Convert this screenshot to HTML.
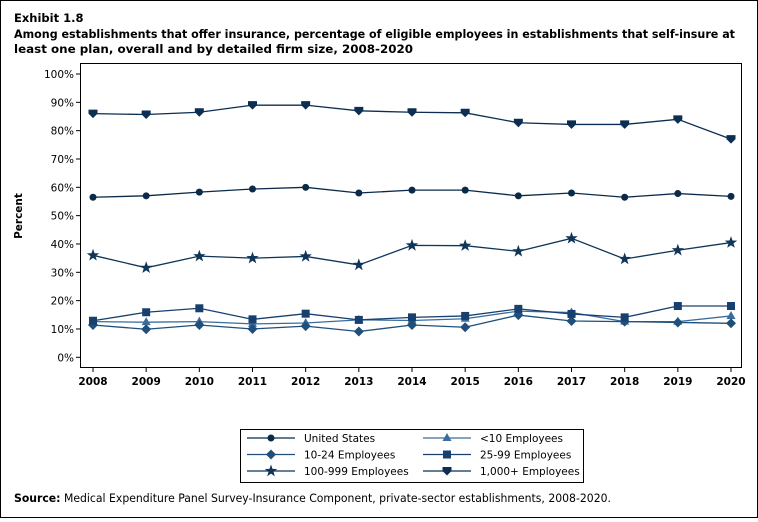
<!DOCTYPE html>
<html><head><meta charset="utf-8"><style>
body{margin:0;background:#fff;font-family:"DejaVu Sans",sans-serif}
</style></head><body>
<svg width="758" height="518" xmlns="http://www.w3.org/2000/svg" font-family="DejaVu Sans, Liberation Sans, sans-serif">
<rect x="0.5" y="0.5" width="757" height="517" fill="#fff" stroke="#000"/>
<text x="14" y="22" font-size="11.5" font-weight="bold">Exhibit 1.8</text>
<text x="14" y="38" font-size="11.5" font-weight="bold" textLength="721" lengthAdjust="spacingAndGlyphs">Among establishments that offer insurance, percentage of eligible employees in establishments that self-insure at</text>
<text x="14" y="53" font-size="11.5" font-weight="bold" textLength="399" lengthAdjust="spacingAndGlyphs">least one plan, overall and by detailed firm size, 2008-2020</text>
<rect x="80.5" y="63.5" width="661" height="304" fill="none" stroke="#000"/>
<text transform="translate(22,216) rotate(-90)" text-anchor="middle" font-size="10.5" font-weight="bold">Percent</text>
<g id="axes"></g>
<g id="series"></g>
<rect x="240.5" y="429.5" width="343" height="53" fill="#fff" stroke="#000"/>
<g id="legend"></g>
<text x="14" y="502" font-size="11.5" textLength="597" lengthAdjust="spacingAndGlyphs"><tspan font-weight="bold">Source:</tspan> Medical Expenditure Panel Survey-Insurance Component, private-sector establishments, 2008-2020.</text>
</svg>
<script>
const years=[2008,2009,2010,2011,2012,2013,2014,2015,2016,2017,2018,2019,2020];
const yTicks=[0,10,20,30,40,50,60,70,80,90,100];
const seriesNames=["United States","<10 Employees","10-24 Employees","25-99 Employees","100-999 Employees","1,000+ Employees"];
const usVals=[56.5,57,58.3,59.4,60,58,59,59,57,58,56.5,57.8,56.8];
const lt10Vals=[12.6,12.4,12.6,11.8,12.1,13.2,13,13.6,16.3,15.8,12.6,12.6,14.6];
const e10to24Vals=[11.4,9.9,11.4,10,11,9.1,11.4,10.6,14.9,12.8,12.6,12.3,12];
const e25to99Vals=[12.9,15.9,17.3,13.4,15.4,13.2,14.1,14.6,17.1,15.3,14.1,18.1,18.1];
const e100to999Vals=[36,31.6,35.7,35,35.6,32.6,39.5,39.4,37.4,42,34.7,37.8,40.5];
const e1000Vals=[86,85.7,86.5,89,89,87,86.5,86.3,82.8,82.2,82.2,84,77];

const NS="http://www.w3.org/2000/svg";
const xs=i=>93+i*(731-93)/(years.length-1);
const ys=v=>357.3-v*2.833;
function mk(tag,attrs,parent){const e=document.createElementNS(NS,tag);for(const k in attrs)e.setAttribute(k,attrs[k]);parent.appendChild(e);return e;}
const ax=document.getElementById('axes');
yTicks.forEach(t=>{
  const l=mk('line',{x1:76,x2:80,y1:ys(t),y2:ys(t),stroke:'#000'},ax);
  
  
  const tx=mk('text',{x:74,y:ys(t)+4,'text-anchor':'end','font-size':10.5},ax);
  tx.textContent=t+'%';
  
  
});
years.forEach((y,i)=>{
  const l=mk('line',{x1:xs(i),x2:xs(i),y1:368,y2:372,stroke:'#000'},ax);
  
  
  const tx=mk('text',{x:xs(i),y:385,'text-anchor':'middle','font-size':10.5,'font-weight':'bold'},ax);
  tx.textContent=y;
  
  
});
function marker(type,x,y,color,parent){
  let e;
  if(type==='circle')e=mk('circle',{cx:x,cy:y,r:3.5,fill:color},parent);
  else if(type==='tri')e=mk('polygon',{points:`${x},${y-5} ${x+4.5},${y+3} ${x-4.5},${y+3}`,fill:color},parent);
  else if(type==='diamond')e=mk('polygon',{points:`${x},${y-5} ${x+5},${y} ${x},${y+5} ${x-5},${y}`,fill:color},parent);
  else if(type==='square')e=mk('rect',{x:x-4,y:y-4,width:8,height:8,fill:color},parent);
  else if(type==='star'){let p=[];for(let k=0;k<10;k++){const r=k%2?2.6:6.5,a=-Math.PI/2+k*Math.PI/5;p.push((x+r*Math.cos(a)).toFixed(1)+','+(y+r*Math.sin(a)).toFixed(1));}e=mk('polygon',{points:p.join(' '),fill:color},parent);}
  else e=mk('polygon',{points:`${x-4.5},${y-4} ${x+4.5},${y-4} ${x+4.5},${y} ${x},${y+4.5} ${x-4.5},${y}`,fill:color},parent);
  return e;
}
const allVals=[usVals,lt10Vals,e10to24Vals,e25to99Vals,e100to999Vals,e1000Vals];
const types=['circle','tri','diamond','square','star','shield'];
const colors=['#0b2a48','#3a6d9e','#1f4f7a','#17406f','#0f3559','#0c2e52'];
const slugs=['us','lt10','10-24','25-99','100-999','1000plus'];
const sg=document.getElementById('series');
allVals.forEach((vals,s)=>{
  const g=mk('g',{},sg);
  
  
  const ln=mk('polyline',{points:vals.map((v,i)=>xs(i)+','+ys(v)).join(' '),fill:'none',stroke:colors[s],'stroke-width':1.3},g);
  
  
  vals.forEach((v,i)=>{
    const m=marker(types[s],xs(i),ys(v),colors[s],g);
    
    
  });
});
const lg=document.getElementById('legend');
seriesNames.forEach((n,s)=>{
  const col=s%2,row=Math.floor(s/2);
  const x0=col?423:247,y0=438+row*16.5;
  const g=mk('g',{},lg);
  
  
  mk('line',{x1:x0,x2:x0+48,y1:y0,y2:y0,stroke:colors[s],'stroke-width':1.3},g);
  marker(types[s],x0+24,y0,colors[s],g);
  const t=mk('text',{x:x0+57,y:y0+4,'font-size':10.5},g);
  t.textContent=n;
});
</script>
</body></html>
